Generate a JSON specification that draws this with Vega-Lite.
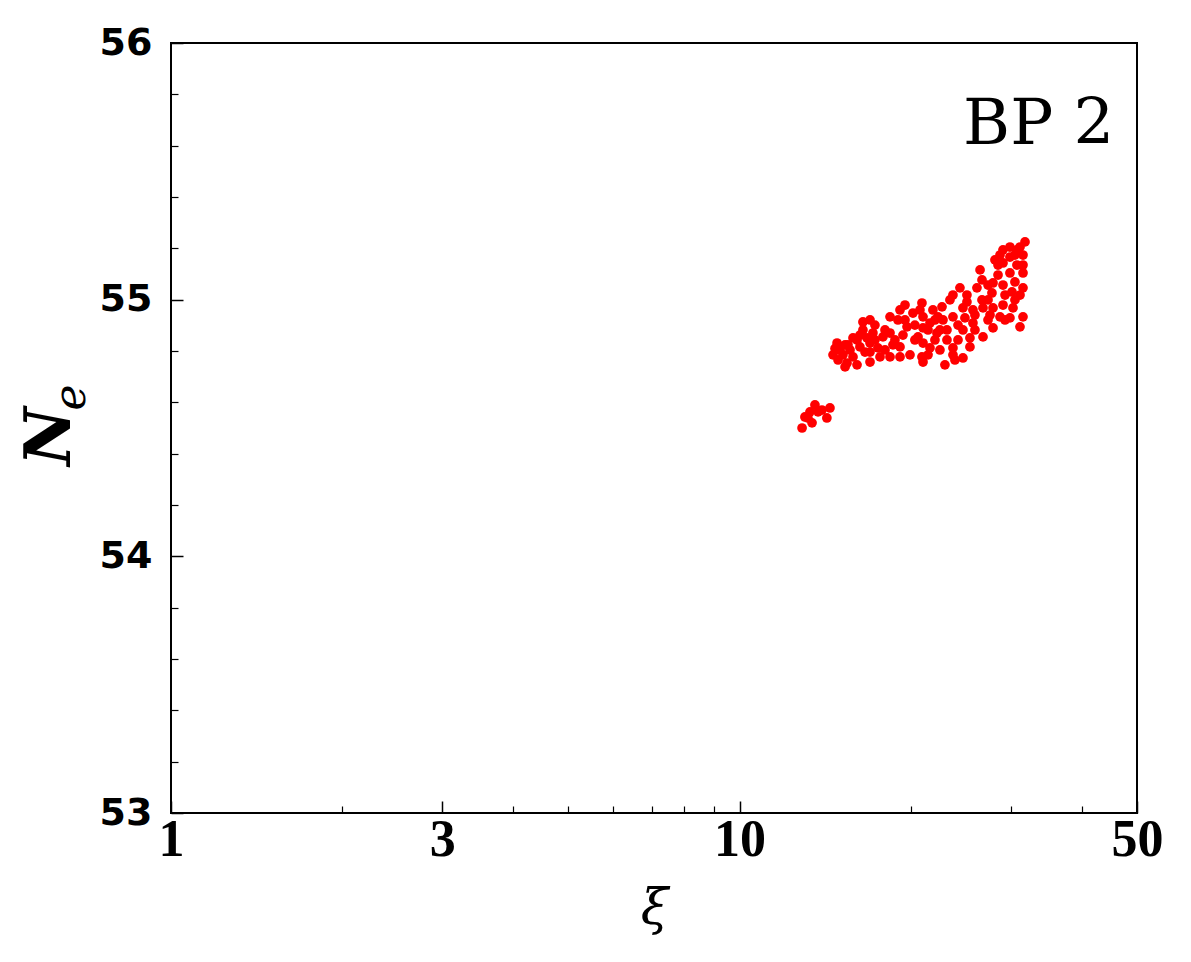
{
  "$schema": "https://vega.github.io/schema/vega-lite/v6.json",
  "width": 966,
  "height": 770,
  "autosize": {"type": "none"},
  "padding": {"left": 171, "top": 43, "right": 54, "bottom": 149},
  "background": "white",
  "config": {
    "view": {"stroke": "black", "strokeWidth": 2},
    "axis": {"grid": false, "domain": false, "tickColor": "black", "labelColor": "black", "titleColor": "black"}
  },
  "datasets": {
    "pts": [
      {"xi": 31.77, "Ne": 55.225}, {"xi": 31.13, "Ne": 55.205}, {"xi": 29.89, "Ne": 55.205}, {"xi": 29.06, "Ne": 55.194},
      {"xi": 28.71, "Ne": 55.174}, {"xi": 31.51, "Ne": 55.174}, {"xi": 29.89, "Ne": 55.166}, {"xi": 29.06, "Ne": 55.143},
      {"xi": 31.51, "Ne": 55.135}, {"xi": 30.75, "Ne": 55.135}, {"xi": 28.48, "Ne": 55.135}, {"xi": 31.51, "Ne": 55.104},
      {"xi": 29.89, "Ne": 55.104}, {"xi": 28.48, "Ne": 55.096}, {"xi": 26.48, "Ne": 55.116}, {"xi": 26.69, "Ne": 55.077},
      {"xi": 27.91, "Ne": 55.065}, {"xi": 29.06, "Ne": 55.057}, {"xi": 31.51, "Ne": 55.046}, {"xi": 31.13, "Ne": 55.018},
      {"xi": 30.14, "Ne": 55.030}, {"xi": 27.79, "Ne": 55.026}, {"xi": 26.15, "Ne": 55.046}, {"xi": 26.69, "Ne": 54.999},
      {"xi": 26.80, "Ne": 54.968}, {"xi": 27.91, "Ne": 54.968}, {"xi": 29.06, "Ne": 54.979}, {"xi": 30.26, "Ne": 54.968},
      {"xi": 31.51, "Ne": 54.933}, {"xi": 31.13, "Ne": 54.894}, {"xi": 29.89, "Ne": 54.929}, {"xi": 28.71, "Ne": 54.933},
      {"xi": 27.91, "Ne": 54.890}, {"xi": 26.80, "Ne": 54.855}, {"xi": 25.11, "Ne": 55.018}, {"xi": 24.41, "Ne": 55.046},
      {"xi": 23.73, "Ne": 55.018}, {"xi": 25.11, "Ne": 54.991}, {"xi": 24.71, "Ne": 54.968}, {"xi": 25.73, "Ne": 54.960},
      {"xi": 23.73, "Ne": 54.933}, {"xi": 25.73, "Ne": 54.909}, {"xi": 24.71, "Ne": 54.882}, {"xi": 25.42, "Ne": 54.851},
      {"xi": 25.42, "Ne": 54.816}, {"xi": 24.71, "Ne": 54.773}, {"xi": 23.73, "Ne": 54.785}, {"xi": 23.73, "Ne": 54.812},
      {"xi": 22.97, "Ne": 54.746}, {"xi": 23.16, "Ne": 54.843}, {"xi": 23.16, "Ne": 54.882}, {"xi": 22.79, "Ne": 54.921},
      {"xi": 22.33, "Ne": 54.933}, {"xi": 21.88, "Ne": 54.960}, {"xi": 22.70, "Ne": 54.972}, {"xi": 20.93, "Ne": 54.987},
      {"xi": 20.18, "Ne": 54.948}, {"xi": 21.02, "Ne": 54.933}, {"xi": 21.62, "Ne": 54.909}, {"xi": 21.02, "Ne": 54.890},
      {"xi": 20.60, "Ne": 54.855}, {"xi": 21.02, "Ne": 54.831}, {"xi": 21.62, "Ne": 54.812}, {"xi": 20.93, "Ne": 54.777},
      {"xi": 21.02, "Ne": 54.757}, {"xi": 22.24, "Ne": 54.870}, {"xi": 19.70, "Ne": 54.894}, {"xi": 19.38, "Ne": 54.862},
      {"xi": 19.15, "Ne": 54.960}, {"xi": 18.39, "Ne": 54.933}, {"xi": 18.99, "Ne": 54.921}, {"xi": 18.39, "Ne": 54.870},
      {"xi": 17.87, "Ne": 54.855}, {"xi": 18.61, "Ne": 54.824}, {"xi": 19.15, "Ne": 54.816}, {"xi": 19.94, "Ne": 54.785},
      {"xi": 19.15, "Ne": 54.777}, {"xi": 18.39, "Ne": 54.777}, {"xi": 17.66, "Ne": 54.777}, {"xi": 16.96, "Ne": 54.757},
      {"xi": 17.51, "Ne": 54.812}, {"xi": 16.96, "Ne": 54.831}, {"xi": 17.16, "Ne": 54.870}, {"xi": 16.48, "Ne": 54.913},
      {"xi": 16.96, "Ne": 54.921}, {"xi": 16.48, "Ne": 54.882}, {"xi": 15.83, "Ne": 54.851}, {"xi": 16.28, "Ne": 54.816},
      {"xi": 15.83, "Ne": 54.777}, {"xi": 15.45, "Ne": 54.753}, {"xi": 16.09, "Ne": 54.746}, {"xi": 15.33, "Ne": 54.738},
      {"xi": 14.84, "Ne": 54.831}, {"xi": 15.02, "Ne": 54.804}, {"xi": 14.60, "Ne": 54.785}, {"xi": 15.20, "Ne": 54.785},
      {"xi": 15.64, "Ne": 54.804}, {"xi": 16.62, "Ne": 54.796},
      {"xi": 14.72, "Ne": 54.810}, {"xi": 15.33, "Ne": 54.824}, {"xi": 16.09, "Ne": 54.843}, {"xi": 16.75, "Ne": 54.851},
      {"xi": 17.30, "Ne": 54.843}, {"xi": 18.02, "Ne": 54.882}, {"xi": 19.54, "Ne": 54.921}, {"xi": 20.34, "Ne": 54.901},
      {"xi": 21.45, "Ne": 54.882}, {"xi": 22.06, "Ne": 54.843}, {"xi": 22.51, "Ne": 54.804}, {"xi": 24.22, "Ne": 54.901},
      {"xi": 25.94, "Ne": 54.940}, {"xi": 27.35, "Ne": 54.999}, {"xi": 29.30, "Ne": 55.018}, {"xi": 30.50, "Ne": 55.069},
      {"xi": 27.35, "Ne": 54.921}, {"xi": 30.75, "Ne": 55.194},
      {"xi": 19.54, "Ne": 54.979}, {"xi": 20.34, "Ne": 54.843}, {"xi": 21.45, "Ne": 54.785}, {"xi": 22.06, "Ne": 54.921},
      {"xi": 23.44, "Ne": 54.999}, {"xi": 24.22, "Ne": 54.843}, {"xi": 25.94, "Ne": 54.882}, {"xi": 27.35, "Ne": 55.057},
      {"xi": 30.50, "Ne": 54.999}, {"xi": 29.30, "Ne": 54.921}, {"xi": 18.76, "Ne": 54.843}, {"xi": 18.02, "Ne": 54.804},
      {"xi": 16.28, "Ne": 54.862}, {"xi": 15.51, "Ne": 54.824}, {"xi": 14.90, "Ne": 54.765}, {"xi": 17.30, "Ne": 54.901},
      {"xi": 22.51, "Ne": 54.882}, {"xi": 23.92, "Ne": 54.765}, {"xi": 28.13, "Ne": 55.155}, {"xi": 30.50, "Ne": 55.174},
      {"xi": 27.57, "Ne": 54.940}, {"xi": 24.91, "Ne": 54.929}, {"xi": 20.76, "Ne": 54.960}, {"xi": 16.96, "Ne": 54.796},
      {"xi": 12.88, "Ne": 54.500}, {"xi": 13.03, "Ne": 54.543}, {"xi": 13.30, "Ne": 54.563}, {"xi": 13.57, "Ne": 54.590},
      {"xi": 13.41, "Ne": 54.520}, {"xi": 13.74, "Ne": 54.563}, {"xi": 14.24, "Ne": 54.539}, {"xi": 14.42, "Ne": 54.578},
      {"xi": 13.19, "Ne": 54.539}, {"xi": 13.96, "Ne": 54.570}
    ],
    "label": [{"xi": 45.6, "Ne": 55.68, "text": "BP 2"}]
  },
  "layer": [
    {
      "data": {"name": "pts"},
      "mark": {"type": "circle", "color": "#ff0000", "opacity": 1, "size": 95},
      "encoding": {
        "x": {
          "field": "xi", "type": "quantitative",
          "scale": {"type": "log", "domain": [1, 50], "nice": false},
          "axis": {
            "orient": "bottom", "values": [1, 3, 10, 50], "format": "d",
            "tickSize": -12, "tickWidth": 1.5,
            "labelFont": "Liberation Serif", "labelFontWeight": "bold", "labelFontSize": 52,
            "labelPadding": 13, "labelFlush": false,
            "title": "ξ", "titleFont": "DejaVu Serif", "titleFontStyle": "italic", "titleFontWeight": "normal",
            "titleFontSize": 50, "titlePadding": 18
          }
        },
        "y": {
          "field": "Ne", "type": "quantitative",
          "scale": {"domain": [53, 56], "nice": false, "zero": false},
          "axis": {
            "orient": "left", "values": [53, 54, 55, 56], "format": "d",
            "tickSize": -12, "tickWidth": 1.5,
            "labelFont": "DejaVu Sans", "labelFontWeight": "bold", "labelFontSize": 38,
            "labelPadding": 31, "labelFlush": false,
            "title": "N", "titleFont": "DejaVu Serif", "titleFontStyle": "italic", "titleFontWeight": "bold",
            "titleFontSize": 64, "titleAngle": -90, "titleAlign": "center", "titleBaseline": "middle",
            "titleX": -121, "titleY": 393
          }
        }
      }
    },
    {
      "data": {"name": "label"},
      "mark": {"type": "text", "align": "right", "baseline": "middle", "font": "DejaVu Serif", "fontSize": 64, "color": "black"},
      "encoding": {
        "x": {
          "field": "xi", "type": "quantitative",
          "axis": {
            "orient": "bottom", "values": [2, 4, 5, 6, 7, 8, 9, 20, 30, 40],
            "labels": false, "title": null, "tickSize": -7, "tickWidth": 1.2
          }
        },
        "y": {
          "field": "Ne", "type": "quantitative",
          "axis": {
            "orient": "left",
            "values": [53.2, 53.4, 53.6, 53.8, 54.2, 54.4, 54.6, 54.8, 55.2, 55.4, 55.6, 55.8],
            "labels": false, "tickSize": -7, "tickWidth": 1.2,
            "title": "e", "titleFont": "DejaVu Serif", "titleFontStyle": "italic", "titleFontWeight": "normal",
            "titleFontSize": 44, "titleAngle": -90, "titleAlign": "center", "titleBaseline": "middle",
            "titleX": -100, "titleY": 354
          }
        },
        "text": {"field": "text"}
      }
    }
  ],
  "resolve": {"axis": {"x": "independent", "y": "independent"}}
}
